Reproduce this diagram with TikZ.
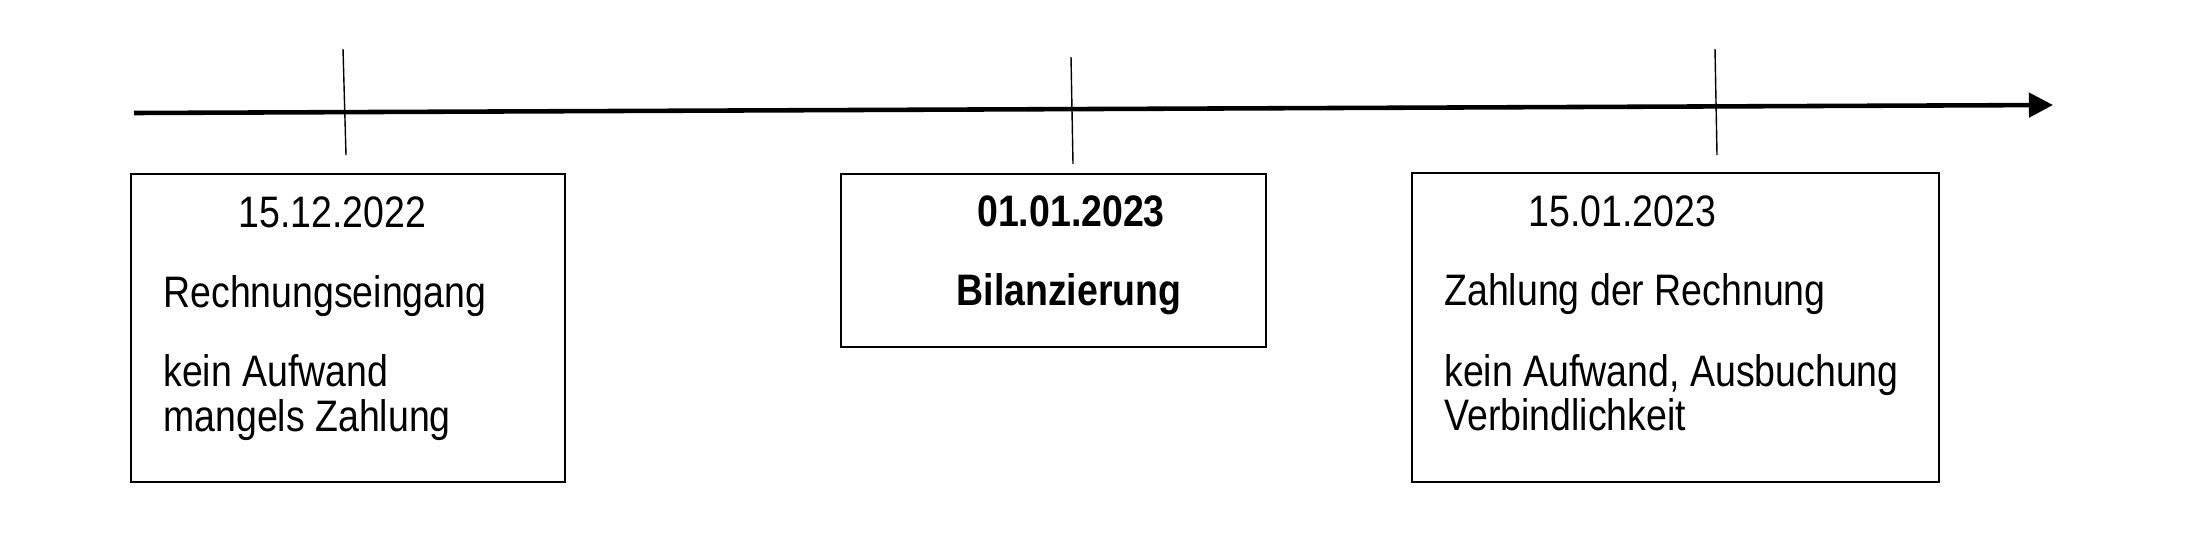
\documentclass[tikz,border=0pt]{standalone}
\usepackage{fontspec}
\setmainfont{Liberation Sans}[FakeStretch=0.85]
\usetikzlibrary{arrows.meta,positioning}

\begin{document}
\begin{tikzpicture}[x=0.02cm, y=-0.02cm, every node/.style={inner sep=0pt, font=\fontsize{25.1}{30}\selectfont}]
  % Define dimensions
  \def\px{0.02cm}
  \tikzset{box/.style={draw, line width=1pt},
           txt/.style={anchor=base west},
           tick/.style={line width=0.8pt}}
  \useasboundingbox (0,0) rectangle (2186,532);

  % Define points
  \coordinate (A) at (134,113);
  \coordinate (B) at (2053,105);
  \coordinate (T1a) at (343,49);
  \coordinate (T1b) at (346,155);
  \coordinate (T2a) at (1071,57);
  \coordinate (T2b) at (1073,164);
  \coordinate (T3a) at (1715,49);
  \coordinate (T3b) at (1717,155);

  % Draw time axis
  \draw [line width=2.6pt, -{Triangle[length=13.7pt, width=13.7pt]}] (A) -- (B);
  \foreach \t in {1,2,3}
      \draw [tick] (T\t a) -- (T\t b);

  % Draw boxes
  \node[box, minimum width=434*\px, minimum height=308*\px] (R) at (348,328) {};
  \node[box, line width=1.6pt, minimum width=425*\px, minimum height=173*\px] (S) at (1053.5,260.5) {};
  \node[box, minimum width=527*\px, minimum height=309*\px] (Z) at (1675.5,327.5) {};

  % Label boxes
  \node[txt] (R1) at (238,227) {15.12.2022};
  \node[txt] (R2) at (163,307) {Rechnungseingang};
  \node[txt] (R3) at (163,386) {kein Aufwand};
  \node[txt] (R4) at (163,431) {mangels Zahlung};

  \node[anchor=base] (S1) at (1071,226) {\bfseries 01.01.2023};
  \node[anchor=base] (S2) at (1069,305) {\bfseries Bilanzierung};

  \node[txt] (Z1) at (1528,226) {15.01.2023};
  \node[txt] (Z2) at (1444,305) {Zahlung der Rechnung};
  \node[txt] (Z3) at (1444,386) {kein Aufwand, Ausbuchung};
  \node[txt] (Z4) at (1444,430) {Verbindlichkeit};
\end{tikzpicture}
\end{document}
